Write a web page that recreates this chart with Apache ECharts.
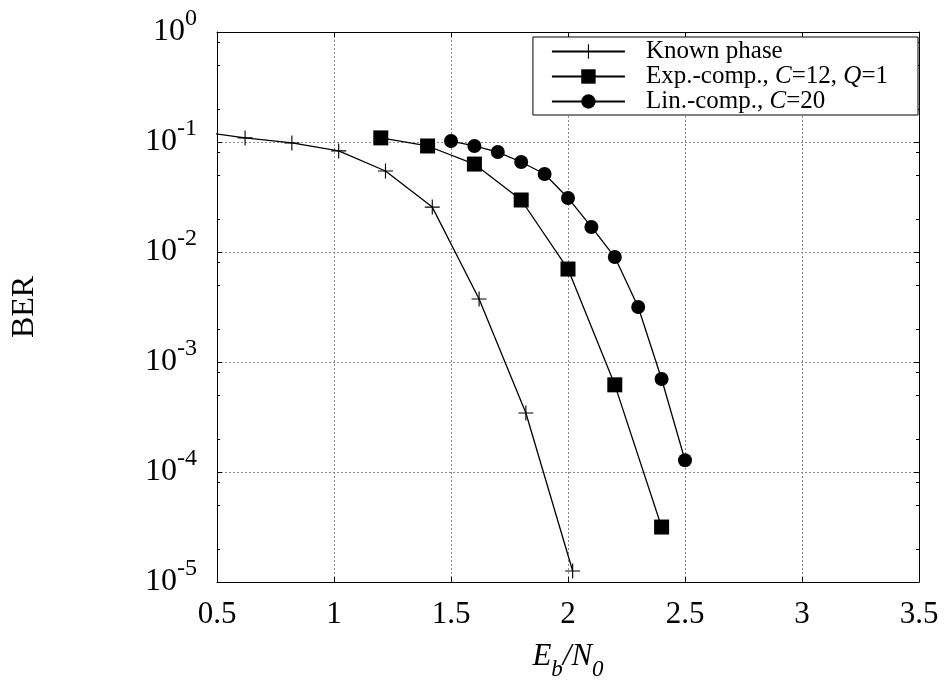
<!DOCTYPE html>
<html>
<head>
<meta charset="utf-8">
<script src="https://cdn.jsdelivr.net/npm/echarts@6/dist/echarts.min.js"></script>
<style>html,body{margin:0;padding:0;background:#fff}#c{width:947px;height:686px}</style>
</head>
<body>
<div id="c"></div>
<script>
// ---- data ----
const knownX = [0.42, 0.62, 0.82, 1.02, 1.22, 1.42, 1.62, 1.82, 2.02];
const knownY = [0.125, 0.109, 0.098, 0.083, 0.0545, 0.0256, 0.00374, 0.000344, 0.0000126];
const expX = [1.2, 1.4, 1.6, 1.8, 2.0, 2.2, 2.4];
const expY = [0.109, 0.092, 0.063, 0.0297, 0.0070, 0.00062, 0.0000316];
const linX = [1.5, 1.6, 1.7, 1.8, 1.9, 2.0, 2.1, 2.2, 2.3, 2.4, 2.5];
const linY = [0.102, 0.092, 0.081, 0.0658, 0.0512, 0.031, 0.0169, 0.0090, 0.00316, 0.00070, 0.000128];
const seriesNames = ['Known phase', 'Exp.-comp., C=12, Q=1', 'Lin.-comp., C=20'];
const legendLabels = [
  '{p| }{t|Known phase}',
  '{p| }{t|Exp.-comp., }{i|C}{t|=12, }{i|Q}{t|=1}',
  '{p| }{t|Lin.-comp., }{i|C}{t|=20}'
];
const xTickLabels = ['0.5', '1', '1.5', '2', '2.5', '3', '3.5'];
const yExponents = ['-5', '-4', '-3', '-2', '-1', '0'];
const yMinorTicks = [2e-5, 5e-5, 8e-5, 2e-4, 5e-4, 8e-4, 2e-3, 5e-3, 8e-3, 2e-2, 5e-2, 8e-2, 0.2, 0.5, 0.8];

const FONT = '"Liberation Serif", "DejaVu Serif", serif';
const zip = (xs, ys) => xs.map((x, i) => [x, ys[i]]);
const plusPath = 'path://M0,9.25H20V10.75H0Z M9.25,0H10.75V20H9.25Z';

const chart = echarts.init(document.getElementById('c'), null, {renderer: 'canvas'});

const gridLine = {show: true, lineStyle: {color: '#8a8a8a', type: [2, 2], width: 1}};
const axisLine = {show: true, onZero: false, lineStyle: {color: '#000', width: 1}};

const yLabelFmt = v => {
  const e = Math.round(Math.log10(v));
  return '{b|10}{s|' + yExponents[e + 5] + '}';
};

const option = {
  animation: false,
  backgroundColor: '#fff',
  grid: {left: 217, right: 28, top: 32, bottom: 104, containLabel: false},
  legend: {
    right: 29, top: 37,
    orient: 'vertical',
    align: 'left',
    data: seriesNames,
    selectedMode: false,
    backgroundColor: '#fff',
    borderColor: '#000',
    borderWidth: 1,
    borderRadius: 0,
    padding: [2, 30, 1, 18],
    itemGap: 0,
    itemWidth: 73,
    itemHeight: 18,
    formatter: name => legendLabels[seriesNames.indexOf(name)],
    textStyle: {
      color: '#000',
      fontFamily: FONT,
      fontSize: 25,
      lineHeight: 22,
      rich: {
        p: {width: 16, lineHeight: 22},
        t: {fontFamily: FONT, fontSize: 25, lineHeight: 22, color: '#000'},
        i: {fontFamily: FONT, fontSize: 25, lineHeight: 22, fontStyle: 'italic', color: '#000'}
      }
    }
  },
  xAxis: [{
    type: 'value', position: 'bottom',
    min: 0.5, max: 3.5, interval: 0.5,
    axisLine: axisLine,
    axisTick: {show: true, inside: true, length: 5, lineStyle: {color: '#000'}},
    splitLine: gridLine,
    axisLabel: {
      color: '#000', fontFamily: FONT, fontSize: 31, margin: 17,
      formatter: v => xTickLabels[Math.round((v - 0.5) / 0.5)]
    },
    name: '{e|E}{s|b}{e|/N}{s|0}',
    nameLocation: 'middle',
    nameGap: 68,
    nameTextStyle: {
      rich: {
        e: {fontFamily: FONT, fontSize: 31, fontStyle: 'italic', color: '#000', verticalAlign: 'bottom', lineHeight: 31, padding: [0, 0, 9, 0]},
        s: {fontFamily: FONT, fontSize: 23, fontStyle: 'italic', color: '#000', verticalAlign: 'bottom', lineHeight: 23}
      }
    }
  }, {
    type: 'value', position: 'top',
    min: 0.5, max: 3.5, interval: 0.5,
    axisLine: axisLine,
    axisTick: {show: true, inside: true, length: 5, lineStyle: {color: '#000'}},
    axisLabel: {show: false},
    splitLine: {show: false}
  }],
  yAxis: [{
    type: 'log', logBase: 10, position: 'left',
    min: 1e-5, max: 1,
    axisLine: axisLine,
    axisTick: {show: true, inside: true, length: 5, lineStyle: {color: '#000'}},
    splitLine: gridLine,
    minorTick: {show: false},
    axisLabel: {
      color: '#000', margin: 20,
      formatter: yLabelFmt,
      rich: {
        b: {fontFamily: FONT, fontSize: 32, color: '#000', verticalAlign: 'bottom', lineHeight: 32},
        s: {fontFamily: FONT, fontSize: 24, color: '#000', verticalAlign: 'bottom', lineHeight: 24, padding: [0, 0, 17, 0]}
      }
    },
    name: 'BER',
    nameLocation: 'middle',
    nameRotate: 90,
    nameGap: 176,
    nameTextStyle: {fontFamily: FONT, fontSize: 32, color: '#000'}
  }, {
    type: 'log', logBase: 10, position: 'right',
    min: 1e-5, max: 1,
    axisLine: axisLine,
    axisTick: {show: true, inside: true, length: 5, lineStyle: {color: '#000'}},
    axisLabel: {show: false},
    splitLine: {show: false}
  }, {
    type: 'log', logBase: 10, position: 'left',
    min: 1e-5, max: 1,
    axisLine: {show: false},
    axisTick: {show: true, inside: true, length: 3, customValues: yMinorTicks, lineStyle: {color: '#000'}},
    axisLabel: {show: false},
    splitLine: {show: false}
  }, {
    type: 'log', logBase: 10, position: 'right',
    min: 1e-5, max: 1,
    axisLine: {show: false},
    axisTick: {show: true, inside: true, length: 3, customValues: yMinorTicks, lineStyle: {color: '#000'}},
    axisLabel: {show: false},
    splitLine: {show: false}
  }],
  series: [{
    name: seriesNames[0], type: 'line', xAxisIndex: 0, yAxisIndex: 0,
    data: zip(knownX, knownY),
    clip: true,
    symbol: plusPath, symbolSize: 15, symbolKeepAspect: true,
    itemStyle: {color: '#000'},
    lineStyle: {color: '#000', width: 1.3},
    z: 3
  }, {
    name: seriesNames[1], type: 'line', xAxisIndex: 0, yAxisIndex: 0,
    data: zip(expX, expY),
    clip: true,
    symbol: 'rect', symbolSize: 15,
    itemStyle: {color: '#000'},
    lineStyle: {color: '#000', width: 1.3},
    z: 3
  }, {
    name: seriesNames[2], type: 'line', xAxisIndex: 0, yAxisIndex: 0,
    data: zip(linX, linY),
    clip: true,
    symbol: 'circle', symbolSize: 14,
    itemStyle: {color: '#000'},
    lineStyle: {color: '#000', width: 1.3},
    z: 3
  }]
};
chart.setOption(option);
</script>
</body>
</html>
